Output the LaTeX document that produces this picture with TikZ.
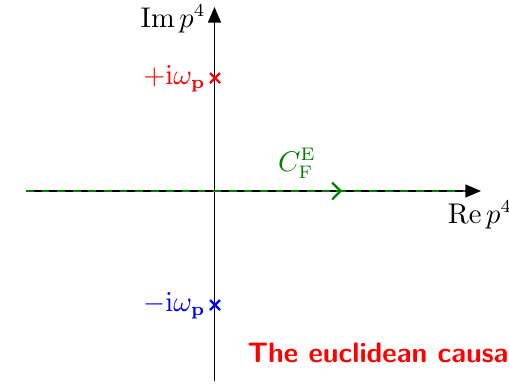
\documentclass[tikz,border=0pt]{standalone}
\usetikzlibrary{arrows.meta,calc}
\definecolor{cgreen}{rgb}{0,0.5,0}
\begin{document}
\begin{tikzpicture}[x=0.3846pt,y=-0.3846pt,
  axis/.style={line width=0.5pt,-{Triangle[length=6pt,width=5pt]}},
  contour/.style={cgreen,line width=0.85pt,dashed},
  pole/.style={line width=0.85pt},
  lbl/.style={inner sep=0pt,font=\fontsize{10.5}{12.5}\selectfont}]
\useasboundingbox (0,0) rectangle (509,385);
% axis end points
\coordinate (hl) at (26,191);
\coordinate (hr) at (481,191);
\coordinate (vb) at (214.5,381);
\coordinate (vt) at (214.5,7);
\coordinate (ce) at (465,191);
\coordinate (am) at (342,191);
\coordinate (ab) at (336,191);
\draw[axis] (hl) -- (hr);
\draw[axis] (vb) -- (vt);
% contour
\draw[contour] (hl) -- (ce);
\draw[cgreen,line width=0.85pt,-{Straight Barb[length=3.2pt,width=6.5pt]}] (ab) -- (am);
% poles
\coordinate (pp) at (215,78);
\coordinate (pm) at (215,305);
\draw[pole,red] ($(pp)+(-5,-5)$) -- ($(pp)+(5,5)$) ($(pp)+(-5,5)$) -- ($(pp)+(5,-5)$);
\draw[pole,blue] ($(pm)+(-5,-5)$) -- ($(pm)+(5,5)$) ($(pm)+(-5,5)$) -- ($(pm)+(5,-5)$);
% labels
\node[lbl,anchor=base east] (im) at (206,27) {$\mathrm{Im}\,p^4$};
\node[lbl,anchor=base] (re) at (480,223) {$\mathrm{Re}\,p^4$};
\node[lbl,red,anchor=base east] (lp) at (206,84) {$+\mathrm{i}\omega_{\mathbf{p}}$};
\node[lbl,blue,anchor=base east] (lm) at (206,311) {$-\mathrm{i}\omega_{\mathbf{p}}$};
\node[lbl,cgreen,anchor=base] (cf) at (297,171) {$C_{\mathrm{F}}^{\mathrm{E}}$};
\node[inner sep=0pt,red,anchor=base west,font=\fontsize{10.8}{13}\selectfont\sffamily\bfseries] (tt) at (247,362) {The euclidean causa};
\end{tikzpicture}
\end{document}
